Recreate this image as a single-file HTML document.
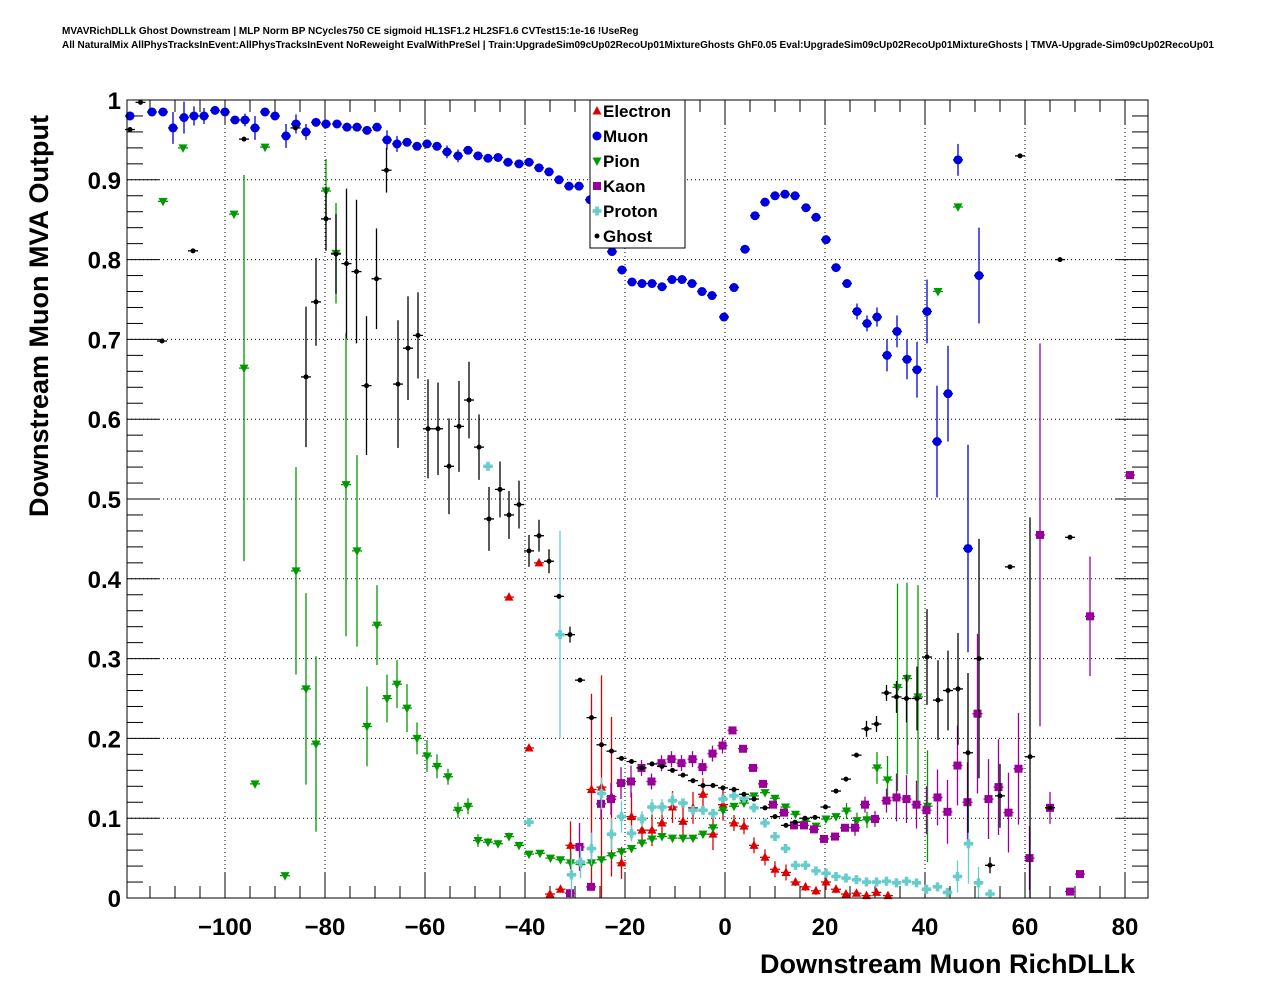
<!DOCTYPE html>
<html><head><meta charset="utf-8"><style>
html,body{margin:0;padding:0;background:#fff;}
svg{display:block;font-family:"Liberation Sans",sans-serif;}
</style></head><body>
<svg id="chart" width="1276" height="996" viewBox="0 0 1276 996" xmlns="http://www.w3.org/2000/svg">
<rect x="0" y="0" width="1276" height="996" fill="#fff"/>
<text x="62" y="34" font-size="10" font-weight="bold">MVAVRichDLLk Ghost Downstream | MLP Norm BP NCycles750 CE sigmoid HL1SF1.2 HL2SF1.6 CVTest15:1e-16 !UseReg</text>
<text x="62" y="48" font-size="10" font-weight="bold">All NaturalMix AllPhysTracksInEvent:AllPhysTracksInEvent NoReweight EvalWithPreSel | Train:UpgradeSim09cUp02RecoUp01MixtureGhosts GhF0.05 Eval:UpgradeSim09cUp02RecoUp01MixtureGhosts | TMVA-Upgrade-Sim09cUp02RecoUp01</text>
<g id="grid"></g>
<g id="axes"></g>
<g id="marks"></g>
<rect x="127" y="100" width="1021" height="798" fill="none" stroke="#000" stroke-width="1"/>
<text x="1135" y="973" font-size="27" font-weight="bold" text-anchor="end">Downstream Muon RichDLLk</text>
<text transform="translate(48,316) rotate(-90)" font-size="27" font-weight="bold" text-anchor="middle">Downstream Muon MVA Output</text>
<g id="legend"></g>
</svg>
<script>
// data: [x, y, yerr]
const electronPts = [[-43.2,.377,0],[-39.2,.188,0],[-37.2,.42,0],[-35,.005,0],[-32.9,.011,0],[-30.9,.066,.03],[-26.7,.136,.12],[-24.7,.139,.14],[-22.7,.127,.1],[-20.7,.044,.02],[-18.7,.102,.03],[-16.6,.085,.02],[-14.6,.085,.02],[-12.6,.094,.02],[-10.5,.114,.02],[-8.4,.096,.02],[-6.4,.113,.02],[-4.4,.13,.02],[-2.4,.08,.02],[-0.4,.117,.02],[1.8,.094,.01],[3.8,.09,.01],[5.8,.066,.01],[8,.051,.01],[10,.036,.01],[12.2,.032,.01],[14.1,.02,.005],[16.1,.014,.005],[18.2,.009,.005],[20.2,.02,.01],[22.2,.011,.005],[24.2,.005,0],[26.3,.006,0],[28.3,.003,0],[30.3,.007,0],[32.6,.003,0]];
const muonPts = [[-119,.98,0],[-114.6,.985,0],[-112.4,.985,0],[-110.4,.965,.02],[-108.2,.978,.02],[-106.2,.98,.012],[-104.2,.98,.01],[-102,.987,0],[-100,.985,0],[-98,.975,0],[-96,.975,.008],[-94,.965,.015],[-92,.985,0],[-90,.98,0],[-87.8,.955,.015],[-85.8,.97,.012],[-83.8,.96,.01],[-81.8,.972,0],[-79.8,.97,0],[-77.6,.97,0],[-75.6,.966,0],[-73.6,.966,0],[-71.6,.962,0],[-69.6,.966,0],[-67.6,.95,.012],[-65.6,.945,.01],[-63.6,.947,0],[-61.6,.942,0],[-59.6,.945,0],[-57.6,.942,0],[-55.6,.935,.008],[-53.4,.93,.008],[-51.4,.937,0],[-49.4,.93,0],[-47.4,.927,0],[-45.4,.928,0],[-43.4,.922,0],[-41.2,.92,0],[-39.2,.922,0],[-37.2,.915,0],[-35.2,.91,0],[-33.2,.9,0],[-31.2,.892,0],[-29.2,.892,0],[-27,.875,0],[-25,.85,0],[-22.6,.81,0],[-20.6,.787,0],[-18.6,.772,0],[-16.6,.77,0],[-14.6,.77,0],[-12.6,.766,0],[-10.6,.775,0],[-8.6,.775,0],[-6.6,.77,0],[-4.6,.76,0],[-2.6,.755,0],[-0.2,.728,0],[1.8,.765,0],[4,.813,0],[6,.855,0],[8,.872,0],[10,.88,0],[12,.882,0],[14,.88,0],[16.2,.865,0],[18.2,.853,0],[20.2,.825,0],[22.2,.79,0],[24.4,.77,0],[26.4,.735,.01],[28.4,.72,.01],[30.4,.728,.012],[32.4,.68,.02],[34.4,.71,.02],[36.4,.675,.025],[38.4,.662,.035],[40.4,.735,.04],[42.4,.572,.07],[44.6,.632,.06],[46.6,.925,.02],[48.6,.438,.13],[50.8,.78,.06]];
const pionPts = [[-112.4,.873,0],[-108.4,.94,0],[-98.2,.857,0],[-96.2,.664,.242],[-94,.143,0],[-92,.941,0],[-88,.028,0],[-85.8,.41,.13],[-83.8,.262,.12],[-81.8,.193,.11],[-79.8,.886,.04],[-77.8,.808,.063],[-75.8,.518,.19],[-73.6,.435,.12],[-71.6,.215,.05],[-69.6,.342,.05],[-67.6,.25,.03],[-65.6,.268,.03],[-63.6,.238,.03],[-61.6,.2,.02],[-59.6,.178,.02],[-57.6,.165,.015],[-55.4,.152,.01],[-53.4,.11,.01],[-51.4,.115,.01],[-49.4,.072,.008],[-47.4,.07,.005],[-45.4,.068,.005],[-43.2,.077,.005],[-41.2,.066,0],[-39.2,.055,0],[-37,.056,0],[-34.9,.05,0],[-32.9,.048,0],[-30.9,.044,0],[-28.9,.042,0],[-26.7,.044,0],[-24.7,.048,0],[-22.7,.053,0],[-20.7,.058,0],[-18.7,.062,0],[-16.6,.069,0],[-14.6,.074,0],[-12.6,.077,0],[-10.5,.075,0],[-8.4,.075,0],[-6.4,.075,0],[-4.4,.08,0],[-2.4,.088,.005],[-0.4,.11,.005],[1.8,.115,0],[3.8,.119,0],[5.8,.128,0],[8,.132,0],[10,.125,0],[12.1,.114,0],[14.1,.105,0],[16.1,.096,0],[18.2,.09,0],[20.2,.099,0],[22.2,.102,0],[24.3,.109,.01],[26.4,.097,.01],[28.4,.098,.01],[30.4,.163,.02],[32.5,.148,.03],[34.5,.264,.13],[36.4,.275,.12],[38.6,.252,.14],[40.5,.115,.07],[42.6,.76,0],[46.6,.866,0]];
const kaonPts = [[-31,.006,0],[-29.1,.064,.03],[-26.8,.014,0],[-24.8,.118,.02],[-22.8,.124,.02],[-20.8,.144,.02],[-18.8,.146,.02],[-16.7,.163,.01],[-14.7,.146,.01],[-12.7,.169,.01],[-10.7,.174,.01],[-8.7,.169,.01],[-6.5,.174,.01],[-4.5,.164,.01],[-2.5,.181,.01],[-0.5,.191,.01],[1.5,.21,0],[3.6,.187,0],[5.6,.163,0],[7.6,.143,0],[9.6,.117,0],[11.8,.107,0],[13.8,.091,0],[15.8,.091,0],[17.8,.086,0],[19.8,.074,0],[22,.077,0],[24,.088,0],[26,.088,.01],[28,.117,.01],[30,.099,.01],[32.3,.122,.015],[34.3,.126,.03],[36.3,.124,.03],[38.3,.117,.03],[40.3,.11,.03],[42.5,.126,.035],[44.5,.108,.04],[46.5,.166,.05],[48.5,.12,.05],[50.5,.231,.1],[52.7,.124,.05],[54.7,.139,.06],[56.7,.107,.05],[58.7,.162,.07],[60.9,.05,.04],[63,.455,.24],[65,.113,.02],[69,.008,0],[71,.03,0],[73,.353,.075],[81,.53,0]];
const protonPts = [[-47.4,.541,0],[-39.2,.095,0],[-33,.33,.13],[-30.7,.029,.03],[-28.9,.045,.02],[-26.7,.062,.02],[-24.7,.131,.02],[-22.7,.08,.02],[-20.7,.102,.02],[-18.7,.081,.01],[-16.6,.099,.01],[-14.6,.114,.01],[-12.6,.114,.01],[-10.5,.122,.01],[-8.4,.119,0],[-6.4,.11,0],[-4.4,.11,0],[-2.4,.106,0],[-0.4,.124,0],[1.8,.128,0],[3.8,.125,0],[5.8,.113,0],[8,.094,0],[10,.077,0],[12.1,.062,0],[14.1,.041,0],[16.1,.041,0],[18.2,.034,0],[20.2,.031,0],[22.2,.027,0],[24.2,.025,0],[26.3,.023,0],[28.3,.02,0],[30.3,.02,0],[32.3,.021,0],[34.3,.019,0],[36.3,.021,0],[38.3,.019,0],[40.3,.011,0],[42.5,.014,0],[44.5,.007,0],[46.5,.027,.02],[48.7,.068,.05],[50.7,.019,.02],[53,.005,0]];
const ghostPts = [[-119,.963,0],[-116.9,.997,0],[-112.6,.698,0],[-106.4,.811,0],[-96.2,.951,0],[-85.9,.965,0],[-83.8,.653,.088],[-81.8,.747,.055],[-79.8,.851,.04],[-77.8,.807,.05],[-75.7,.795,.094],[-73.7,.785,.09],[-71.7,.642,.087],[-69.7,.776,.063],[-67.7,.912,.028],[-65.4,.644,.08],[-63.4,.689,.065],[-61.4,.705,.054],[-59.4,.588,.062],[-57.4,.588,.058],[-55.2,.541,.06],[-53.2,.591,.057],[-51.2,.624,.048],[-49.2,.565,.041],[-47.2,.475,.04],[-45,.512,.035],[-43.2,.48,.03],[-41.2,.493,.03],[-39.2,.435,.02],[-37.2,.454,.02],[-35.2,.422,.015],[-33.2,.378,0],[-31,.33,.01],[-29,.273,0],[-26.7,.226,0],[-24.7,.192,0],[-22.7,.184,0],[-20.7,.175,0],[-18.7,.171,0],[-16.7,.163,0],[-14.6,.168,0],[-12.6,.165,0],[-10.5,.16,0],[-8.4,.154,0],[-6.4,.147,0],[-4.4,.141,0],[-2.4,.141,0],[-0.4,.138,0],[1.8,.136,0],[3.8,.13,0],[5.8,.124,0],[8,.113,0],[10,.102,0],[12.2,.091,0],[14,.095,0],[16,.1,0],[18,.101,0],[20.1,.114,0],[22.2,.134,0],[24.2,.149,0],[26.3,.179,0],[28.3,.212,.01],[30.3,.218,.01],[32.3,.257,.01],[34.3,.252,.02],[36.3,.25,.03],[38.4,.25,.04],[40.4,.302,.06],[42.6,.248,.05],[44.6,.26,.05],[46.6,.262,.07],[48.6,.182,.1],[50.8,.3,.15],[53,.041,.01],[55,.128,.04],[57,.415,0],[59,.93,0],[61,.177,.3],[65,.113,0],[67,.8,0],[69,.452,0]];
const xTickVals = [-100,-80,-60,-40,-20,0,20,40,60,80];
const yTickVals = [0,0.1,0.2,0.3,0.4,0.5,0.6,0.7,0.8,0.9,1];
const yTickLabels = ["0","0.1","0.2","0.3","0.4","0.5","0.6","0.7","0.8","0.9","1"];
const legendNames = ["Electron","Muon","Pion","Kaon","Proton","Ghost"];

const X0=127,X1=1148,Y0=898,Y1=100,XMIN=-119.6,XMAX=84.6;
const sx=v=>X0+(v-XMIN)/(XMAX-XMIN)*(X1-X0);
const sy=v=>Y0-v*(Y0-Y1);
const NS="http://www.w3.org/2000/svg";
function mk(tag,attrs,parent){const e=document.createElementNS(NS,tag);for(const k in attrs)e.setAttribute(k,attrs[k]);parent.appendChild(e);return e;}
const grid=document.getElementById('grid'),axes=document.getElementById('axes'),marks=document.getElementById('marks'),leg=document.getElementById('legend');

xTickVals.forEach(v=>{const x=sx(v);
 let l=mk('line',{x1:x,y1:Y1,x2:x,y2:Y0,stroke:'#000','stroke-width':1,'stroke-dasharray':'1,3'},grid);
 
 let t=mk('text',{x:x,y:935,'font-size':24,'font-weight':'bold','text-anchor':'middle'},axes);
 t.textContent=(v<0?'\u2212'+(-v):''+v);
 
});
yTickVals.forEach((v,i)=>{const y=sy(v);
 if(v>0&&v<1){let l=mk('line',{x1:X0,y1:y,x2:X1,y2:y,stroke:'#000','stroke-width':1,'stroke-dasharray':'1,3'},grid);
 }
 let t=mk('text',{x:121,y:y+9,'font-size':24,'font-weight':'bold','text-anchor':'end'},axes);
 t.textContent=yTickLabels[i];
 
});
for(let v=-115;v<=84;v+=5){const x=sx(v);const major=(v%20===0);const L=major?25:12;
 mk('line',{x1:x,y1:Y0,x2:x,y2:Y0-L,stroke:'#000'},axes);
 mk('line',{x1:x,y1:Y1,x2:x,y2:Y1+L,stroke:'#000'},axes);}
for(let k=0;k<=50;k++){const v=k*0.02;const y=sy(v);const major=(k%5===0);const L=major?32:16;
 mk('line',{x1:X0,y1:y,x2:X0+L,y2:y,stroke:'#000'},axes);
 mk('line',{x1:X1,y1:y,x2:X1-L,y2:y,stroke:'#000'},axes);}

function marker(type,x,y,color,parent){
 let e;
 if(type==='tri-up')e=mk('polygon',{points:`${x},${y-5} ${x-4.5},${y+3.5} ${x+4.5},${y+3.5}`,fill:color},parent);
 else if(type==='tri-down')e=mk('polygon',{points:`${x},${y+5} ${x-4.5},${y-3.5} ${x+4.5},${y-3.5}`,fill:color},parent);
 else if(type==='circle')e=mk('circle',{cx:x,cy:y,r:4.5,fill:color},parent);
 else if(type==='square')e=mk('rect',{x:x-4,y:y-4,width:8,height:8,fill:color},parent);
 else if(type==='cross')e=mk('path',{d:`M${x-1.8},${y-4.5}h3.6v2.7h2.7v3.6h-2.7v2.7h-3.6v-2.7h-2.7v-3.6h2.7z`,fill:color},parent);
 else e=mk('circle',{cx:x,cy:y,r:2.5,fill:color},parent);
 return e;
}
const series=[
 {name:'electron',pts:electronPts,type:'tri-up',color:'#dd0000'},
 {name:'muon',pts:muonPts,type:'circle',color:'#0000dd'},
 {name:'pion',pts:pionPts,type:'tri-down',color:'#009900'},
 {name:'kaon',pts:kaonPts,type:'square',color:'#990099'},
 {name:'proton',pts:protonPts,type:'cross',color:'#66cccc'},
 {name:'ghost',pts:ghostPts,type:'dot',color:'#000000'}];
series.forEach(s=>{
 const g=mk('g',{},marks);
 
 
 s.pts.forEach(p=>{
  const x=sx(p[0]),y=sy(p[1]);
  const ylo=Math.min(Y0,sy(p[1]-p[2])),yhi=Math.max(Y1,sy(p[1]+p[2]));
  mk('line',{x1:x-5,y1:y,x2:x+5,y2:y,stroke:s.color,'stroke-width':1.3},g);
  if(p[2]>0)mk('line',{x1:x,y1:ylo,x2:x,y2:yhi,stroke:s.color,'stroke-width':1.3},g);
  const m=marker(s.type,x,y,s.color,g);
  
  
 });
});
const lb=mk('rect',{x:590,y:100,width:95,height:148,fill:'#fff',stroke:'#000','stroke-width':1},leg);

series.forEach((s,i)=>{
 const y=111+i*25;
 const m=marker(s.type,597,y,s.color,leg);
 
 
 const t=mk('text',{x:603,y:y+6,'font-size':17,'font-weight':'bold'},leg);
 t.textContent=legendNames[i];
 
 
});
</script>
</body></html>
